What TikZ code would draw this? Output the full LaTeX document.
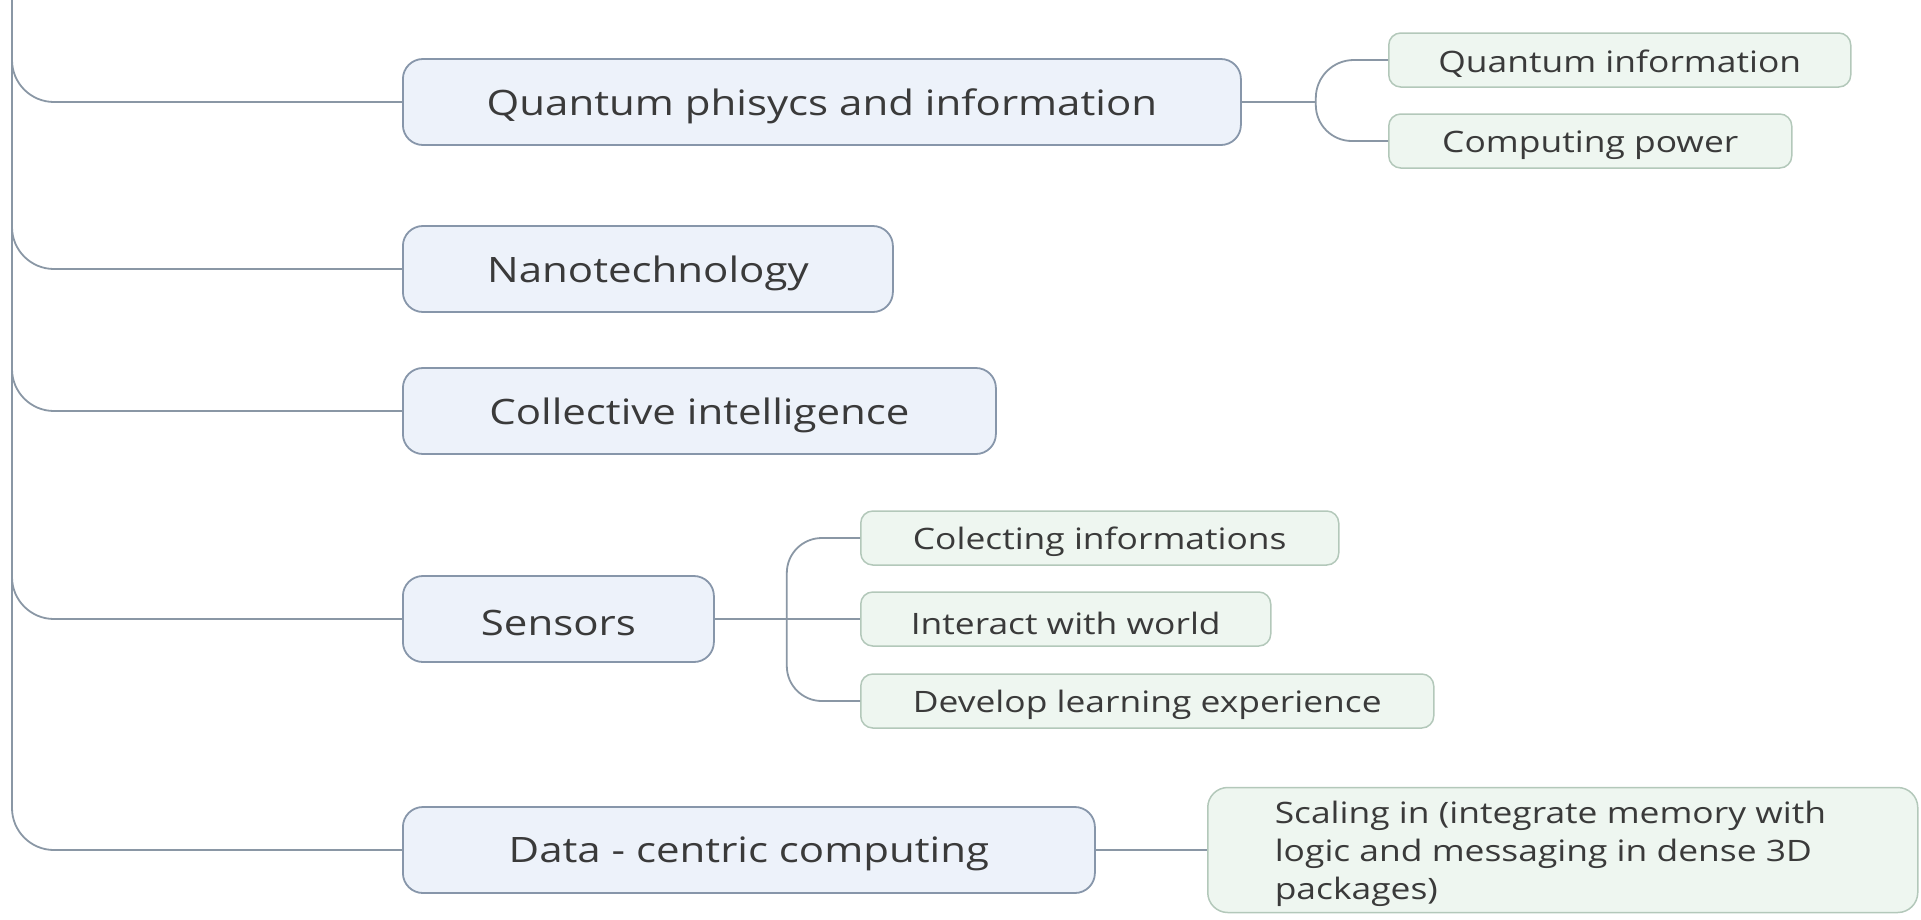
\documentclass[tikz,border=0pt]{standalone}
\usepackage{fontspec}
\setmainfont{Open Sans}
\usepackage{graphicx}
\usetikzlibrary{calc}
\definecolor{mainfill}{HTML}{EDF2FA}
\definecolor{mainborder}{HTML}{8796AA}
\definecolor{subfill}{HTML}{EEF6F0}
\definecolor{subborder}{HTML}{B3C8BA}
\definecolor{linec}{HTML}{8A97A5}
\definecolor{txt}{HTML}{3A3A3A}
\newcommand{\mainfs}{\fontsize{35}{42}\selectfont}
\newcommand{\subfs}{\fontsize{29.5}{38}\selectfont}
\newcommand{\wtxt}[1]{\raisebox{-4pt}[\height][\depth]{\scalebox{1.2}[1]{#1}}}
\begin{document}
\begin{tikzpicture}[x=1pt,y=-1pt,
  mainbox/.style={draw=mainborder, fill=mainfill, line width=1.8pt, rounded corners=20pt,
    minimum height=86pt, inner xsep=0pt, anchor=west, text=txt, font=\mainfs},
  subbox/.style={draw=subborder, fill=subfill, line width=1.5pt, rounded corners=12pt,
    minimum height=54pt, inner xsep=0pt, anchor=west, text=txt, font=\subfs},
  conn/.style={draw=linec, line width=1.8pt}]
\useasboundingbox (0,0) rectangle (1921,919);
% main topics
\node[mainbox, minimum width=838pt] (q) at (402,102) {\wtxt{Quantum phisycs and information}};
\node[mainbox, minimum width=490pt] (n) at (402,269) {\wtxt{Nanotechnology}};
\node[mainbox, minimum width=593pt] (c) at (402,411) {\wtxt{Collective intelligence}};
\node[mainbox, minimum width=311pt] (s) at (402,619) {\wtxt{Sensors}};
\node[mainbox, minimum width=692pt] (d) at (402,850) {\wtxt{Data - centric computing}};
% subtopics
\node[subbox, minimum width=462pt] (qi) at (1388,60) {\wtxt{Quantum information}};
\node[subbox, minimum width=403pt] (cp) at (1388,141) {\wtxt{Computing power}};
\node[subbox, minimum width=478pt] (ci) at (860,538) {\wtxt{Colecting informations}};
\node[subbox, minimum width=410pt] (iw) at (860,619) {\wtxt{Interact with world}};
\node[subbox, minimum width=573pt] (dl) at (860,701) {\wtxt{Develop learning experience}};
\node[subbox, rounded corners=20pt, minimum height=125pt, inner xsep=67pt] (sc) at (1207,850)
  {\makebox[576pt][l]{\wtxt{\begin{tabular}{@{}l@{}}Scaling in (integrate memory with\\ logic and messaging in dense 3D\\ packages)\end{tabular}}}};
% trunk
\coordinate (top) at (12,0);
\draw[conn, rounded corners=42pt] (top) |- (d.west);
\foreach \n in {q,n,c,s}
  \draw[conn, rounded corners=42pt] ([yshift=60pt]\n.west -| top) |- (\n.west);
% quantum branch
\coordinate (qb) at ([xshift=74pt]q.east);
\draw[conn] (q.east) -- (qb);
\draw[conn, rounded corners=38pt] (qb) |- (qi.west);
\draw[conn, rounded corners=36pt] (qb) |- (cp.west);
% sensors branch
\coordinate (sb) at ([xshift=72pt]s.east);
\draw[conn] (s.east) -- (iw.west);
\draw[conn, rounded corners=35pt] (sb) |- (ci.west);
\draw[conn, rounded corners=35pt] (sb) |- (dl.west);
% data branch
\draw[conn] (d.east) -- (sc.west);
\end{tikzpicture}
\end{document}
